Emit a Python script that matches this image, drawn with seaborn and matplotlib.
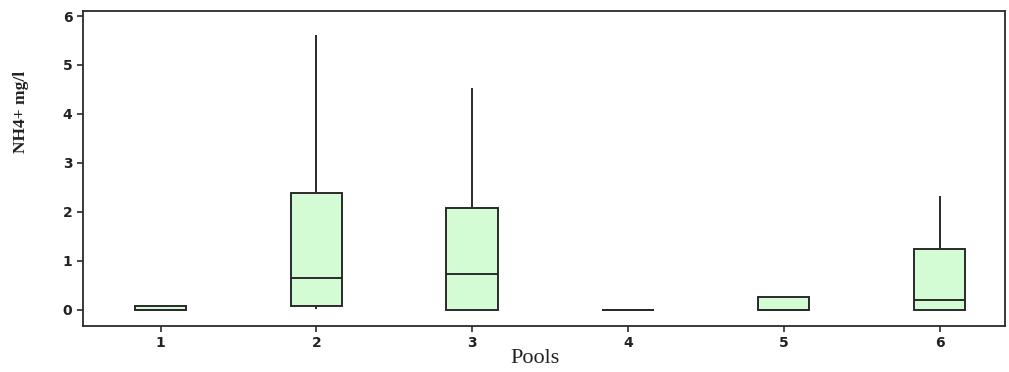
import numpy as np
import pandas as pd
import matplotlib
matplotlib.use("Agg")
import matplotlib.pyplot as plt
import seaborn as sns

# Five-number summaries per pool: min, Q1, median, Q3, max (NH4+ mg/l)
pools = ["1", "2", "3", "4", "5", "6"]
pool1 = [0.0, 0.0, 0.0, 0.08, 0.10]
pool2 = [0.02, 0.08, 0.65, 2.38, 5.62]
pool3 = [0.0, 0.0, 0.73, 2.07, 4.52]
pool4 = [0.0, 0.0, 0.0, 0.0, 0.0]
pool5 = [0.0, 0.0, 0.0, 0.25, 0.25]
pool6 = [0.0, 0.0, 0.19, 1.25, 2.32]
yticks = [0, 1, 2, 3, 4, 5, 6]

series = [pool1, pool2, pool3, pool4, pool5, pool6]
df = pd.DataFrame(
    [(p, v) for p, vals in zip(pools, series) for v in vals],
    columns=["Pool", "NH4"],
)

sns.set_theme(style="ticks")
fig = plt.figure(figsize=(10.09, 3.72), dpi=100)
ax = fig.add_axes([0.082, 0.124, 0.914, 0.846])

line_col = "#2a2a2a"
sns.boxplot(
    data=df, x="Pool", y="NH4", order=pools, ax=ax,
    whis=np.inf, width=0.33, showcaps=False, fliersize=0,
    boxprops=dict(facecolor="#d4fcd4", edgecolor=line_col, linewidth=1.4),
    whiskerprops=dict(color=line_col, linewidth=1.4),
    medianprops=dict(color=line_col, linewidth=1.4),
    linecolor=line_col,
)

ax.set_xlim(-0.5, 5.42)
ax.set_ylim(-0.33, 6.1)
ax.set_yticks(yticks)
ax.set_yticklabels([str(t) for t in yticks])
for s in ax.spines.values():
    s.set_color(line_col)
    s.set_linewidth(1.3)
ax.tick_params(axis="both", direction="out", length=4, width=1.2,
               color=line_col, labelsize=10, labelcolor="#222222")
for lbl in ax.get_xticklabels() + ax.get_yticklabels():
    lbl.set_fontweight("bold")

ax.set_xlabel("Pools", fontsize=16, family="Liberation Serif", color="#222222")
ax.xaxis.set_label_coords(0.49, -0.075, transform=ax.transAxes)
ax.xaxis.label.set_va("top")
ax.set_ylabel("NH4+ mg/l", fontsize=12.5, family="Liberation Serif",
              fontweight="bold", color="#222222")
ax.yaxis.set_label_coords(-0.058, 0.68)

fig.savefig("out.png", dpi=100)
